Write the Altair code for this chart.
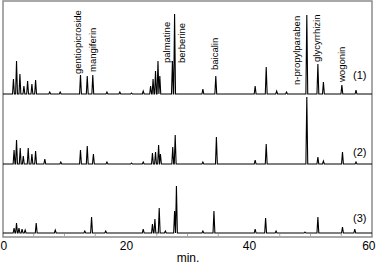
import altair as alt
import pandas as pd

# Peak lists: retention time (min) and height (px-like units)
t1_times = [1.7, 2.2, 2.75, 3.4, 4.0, 4.7, 5.3, 7.6, 9.3, 12.6, 13.7, 14.6, 16.9, 19.0, 20.9, 22.8,
            24.0, 24.4, 24.8, 25.2, 25.5, 27.55, 27.9, 32.5, 34.6, 41.0, 42.8, 44.5, 46.1, 49.4,
            51.2, 52.1, 55.1, 57.4]
t1_heights = [15, 33, 20, 8, 13, 10, 14, 2, 2, 19, 18, 19, 2, 2, 1, 3,
              8, 15, 23, 33, 18, 33, 80, 5, 18, 8, 27, 3, 2, 79,
              30, 12, 9, 4]

t2_times = [1.8, 2.2, 2.8, 3.3, 4.1, 4.7, 5.3, 6.8, 9.4, 12.6, 13.7, 14.7, 16.9, 20.9, 22.8,
            24.3, 24.8, 25.3, 25.6, 27.6, 28.0, 32.5, 34.7, 41.0, 42.8, 49.4, 51.2, 52.1, 55.2, 57.4]
t2_heights = [14, 24, 16, 8, 16, 10, 13, 5, 2, 14, 18, 10, 2, 1, 2,
              11, 12, 19, 10, 17, 29, 2, 27, 4, 20, 67, 7, 3, 12, 2]

t3_times = [1.8, 2.2, 2.6, 3.1, 3.6, 5.4, 8.5, 13.3, 14.4, 16.7, 22.8, 24.3, 24.7, 25.4, 26.4,
            27.9, 28.2, 32.5, 34.3, 41.0, 42.7, 44.4, 49.1, 51.2, 55.2, 57.2]
t3_heights = [5, 10, 5, 4, 3, 10, 3, 2, 16, 2, 4, 9, 14, 25, 2,
              22, 47, 2, 22, 4, 15, 2, 1, 16, 6, 4]

trace_names = ["(1)", "(2)", "(3)"]
trace_offsets = [143, 73, 4]
trace_label_y = [161, 84, 18]

compounds = ["gentiopicroside", "mangiferin", "palmatine", "berberine", "baicalin",
             "n-propylparaben", "glycyrrhizin", "wogonin"]
compound_t = [12.2, 14.6, 26.7, 29.1, 34.5, 47.8, 51.1, 55.2]
compound_y = [163, 165, 174, 174, 167, 152, 175, 155]

minor_ticks = [5, 10, 15, 25, 30, 35, 45, 50, 55]

# Build polylines
rows = []
half_w = 0.15
for name, off, times, heights in zip(trace_names, trace_offsets,
                                     [t1_times, t2_times, t3_times],
                                     [t1_heights, t2_heights, t3_heights]):
    pts = [(0.0, 0.0), (60.0, 0.0)]
    for t, h in zip(times, heights):
        pts += [(t - half_w, 0.0), (t, float(h)), (t + half_w, 0.0)]
    pts.sort(key=lambda p: p[0])
    for i, (t, h) in enumerate(pts):
        rows.append({"trace": name, "t": t, "v": off + h, "order": i})
lines_df = pd.DataFrame(rows)

comp_df = pd.DataFrame({"name": compounds, "t": compound_t, "v": compound_y})
tl_df = pd.DataFrame({"name": trace_names, "t": [58.0] * 3, "v": trace_label_y})
tick_df = pd.DataFrame({"t": minor_ticks})

xscale = alt.Scale(domain=[0, 60], nice=False, zero=False)
yscale = alt.Scale(domain=[0, 236], nice=False, zero=False)

lines = alt.Chart(lines_df).mark_line(color="black", strokeWidth=1.1, interpolate="linear").encode(
    x=alt.X("t:Q", scale=xscale,
            axis=alt.Axis(values=[0, 20, 40, 60], title="min.", domain=False, ticks=False,
                          grid=False, labelFontSize=12, labelColor="black", labelPadding=3,
                          labelFlush=True, labelFlushOffset=3, labelFont="Liberation Sans",
                          titleFont="Liberation Sans", titleFontSize=12,
                          titleFontWeight="normal", titleColor="black",
                          titleY=20, titleBaseline="middle")),
    y=alt.Y("v:Q", scale=yscale, axis=None),
    detail="trace:N",
    order="order:Q",
)

ticks = alt.Chart(tick_df).mark_rule(color="#aaaaaa", strokeWidth=1).encode(
    x=alt.X("t:Q", scale=xscale),
    y=alt.value(236),
    y2=alt.value(233),
)

comp_text = alt.Chart(comp_df).mark_text(angle=270, align="left", baseline="middle",
                                         fontSize=9.5, font="Liberation Sans",
                                         color="black").encode(
    x=alt.X("t:Q", scale=xscale),
    y=alt.Y("v:Q", scale=yscale),
    text="name:N",
)

trace_text = alt.Chart(tl_df).mark_text(align="center", baseline="middle", fontSize=11,
                                        font="Liberation Sans", color="black").encode(
    x=alt.X("t:Q", scale=xscale),
    y=alt.Y("v:Q", scale=yscale),
    text="name:N",
)

chart = alt.layer(ticks, lines, comp_text, trace_text).properties(
    width=369, height=236,
    padding={"left": 3, "top": 1, "right": 4, "bottom": 26},
    autosize=alt.AutoSizeParams(type="none"),
).configure_view(stroke="#8c8c8c", strokeWidth=1.5)

chart.save("out.html", embed_options={"renderer": "svg", "actions": False})
